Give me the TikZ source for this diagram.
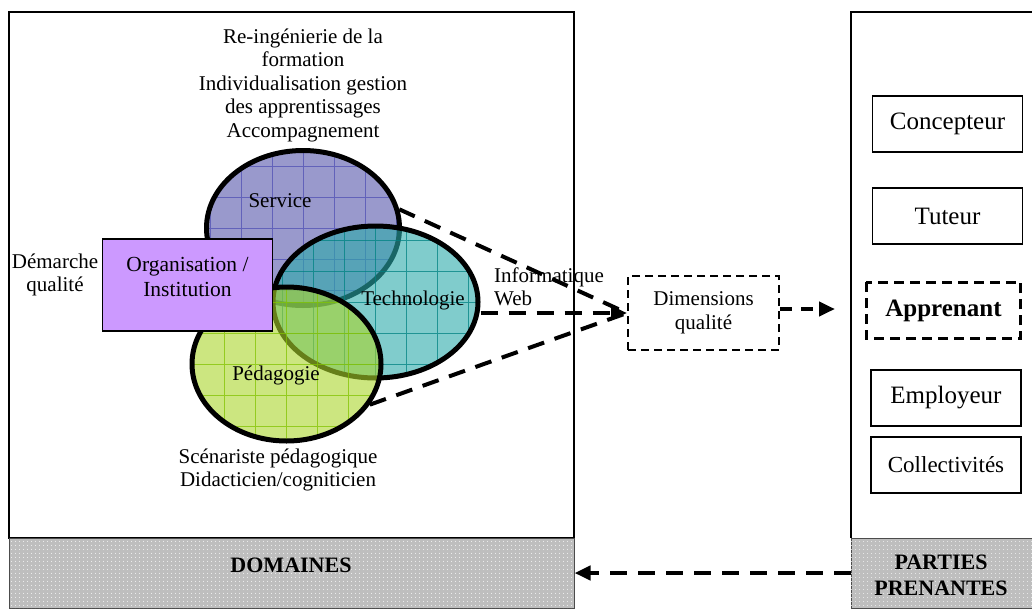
\documentclass[tikz,border=0pt]{standalone}
\usepackage{fontspec}
\setmainfont{Liberation Serif}
\usetikzlibrary{arrows.meta,patterns.meta,positioning,shapes.geometric}
\definecolor{servfill}{RGB}{153,153,204}
\definecolor{servgrid}{RGB}{80,80,180}
\definecolor{techfill}{RGB}{43,170,170}
\definecolor{techgrid}{RGB}{0,130,130}
\definecolor{pedafill}{RGB}{170,213,43}
\definecolor{pedagrid}{RGB}{130,195,0}
\definecolor{orgfill}{RGB}{204,153,255}
\definecolor{bandgrey}{RGB}{190,190,190}

\begin{document}
\begin{tikzpicture}[x=1pt,y=-1pt,
		venn/.style n args={3}{ellipse,draw,line width=5pt,inner sep=0pt,fill=#1,
			path picture={\draw[#2,line width=0.9pt,draw opacity=0.75,shift={(#3)}]
				([xshift=-40pt,yshift=-40pt]path picture bounding box.south west) grid[step=31pt]
				([xshift=40pt,yshift=40pt]path picture bounding box.north east);}},
		txt/.style={font=\fontsize{21}{23.5}\selectfont,align=center,inner sep=0pt},
		role/.style={draw,line width=1.3pt,minimum width=150pt,minimum height=56pt,
			font=\fontsize{25}{28}\selectfont},
		band/.style={draw=black!70,line width=1pt,fill=bandgrey,minimum height=70pt,
			postaction={pattern={Dots[distance=4pt,radius=0.6pt]},pattern color=white!85!bandgrey}},
		dashline/.style={line width=4pt,dash pattern=on 17pt off 11pt},
		tip/.style={-{Triangle[length=16pt,width=14pt]}}
	]
	\useasboundingbox (0,0) rectangle (1032,608);
	% panels
	\draw[line width=1.2pt] (9,12) rectangle (574,538);
	\draw[line width=1.2pt] (1040,12) -- (851,12) -- (851,538);
	\node[band,minimum width=565pt] (dom) at (291.5,573) {};
	\node[band,minimum width=189pt] (pp) at (945.5,573) {};
	\node[txt,font=\fontsize{22}{26}\selectfont\bfseries] (domtxt) at (291,565) {DOMAINES};
	\node[txt,font=\fontsize{22}{26}\selectfont\bfseries] (pptxt) at (941,575) {PARTIES\\PRENANTES};

	% domaines
	\node[venn={servfill}{servgrid}{239,182},minimum width=193pt,minimum height=155pt] (serv) at (303,228) {};
	\node[venn={techfill}{techgrid}{332,258},fill opacity=0.6,minimum width=205pt,minimum height=152pt] (tech) at (375.5,302) {};
	\node[venn={pedafill}{pedagrid}{255,348},fill opacity=0.6,minimum width=189pt,minimum height=154pt] (ped) at (286.5,364) {};
	\node[draw,line width=1.3pt,fill=orgfill,minimum width=170pt,minimum height=92pt] (org) at (187.5,285) {};
	\node[txt,font=\fontsize{21.5}{25}\selectfont] (orgtxt) at (187.5,277) {Organisation /\\Institution};
	\node[txt] (servtxt) at (280,201) {Service};
	\node[txt] (techtxt) at (413,300) {Technologie};
	\node[txt] (pedtxt) at (276,375) {Pédagogie};
	\node[txt] (reing) at (303,85) {Re-ingénierie de la\\formation\\Individualisation gestion\\des apprentissages\\Accompagnement};
	\node[txt] (demarche) at (55,275) {Démarche\\qualité};
	\node[txt] (scenar) at (278,470) {Scénariste pédagogique\\Didacticien/cogniticien};
	\node[txt,align=left,anchor=west] (info) at (494,287) {Informatique\\Web};

	% dimensions qualite
	\node[draw,line width=2pt,dash pattern=on 8pt off 5pt,minimum width=151pt,minimum height=74pt,
		txt,inner sep=0pt] (dim) at (703.5,313) {Dimensions\\qualité};
	\draw[dashline] (serv.11) -- (dim.west);
	\draw[dashline] (ped.-26) -- (dim.west);
	\draw[dashline,tip] (tech.east |- dim.west) -- (dim.west);

	% parties prenantes
	\node[role] (conc) at (947.5,124) {Concepteur};
	\node[role] (tut) at (947.5,216) {Tuteur};
	\node[role,draw=none,minimum width=153pt,minimum height=55pt,font=\fontsize{25}{28}\selectfont\bfseries] (app) at (943.5,310.5) {Apprenant};
	\draw[line width=2.5pt,dash pattern=on 10pt off 6pt] (app.north west) rectangle (app.south east);
	\node[role] (empl) at (946,398) {Employeur};
	\node[role,font=\fontsize{23}{26}\selectfont] (coll) at (946,465) {Collectivités};
	\coordinate (apptip) at (835,309);
	\draw[dashline,dash pattern=on 12pt off 9pt,tip] (dim.east |- apptip) -- (apptip);

	\draw[dashline,tip] (pp.west) -- (dom.east);
\end{tikzpicture}
\end{document}
